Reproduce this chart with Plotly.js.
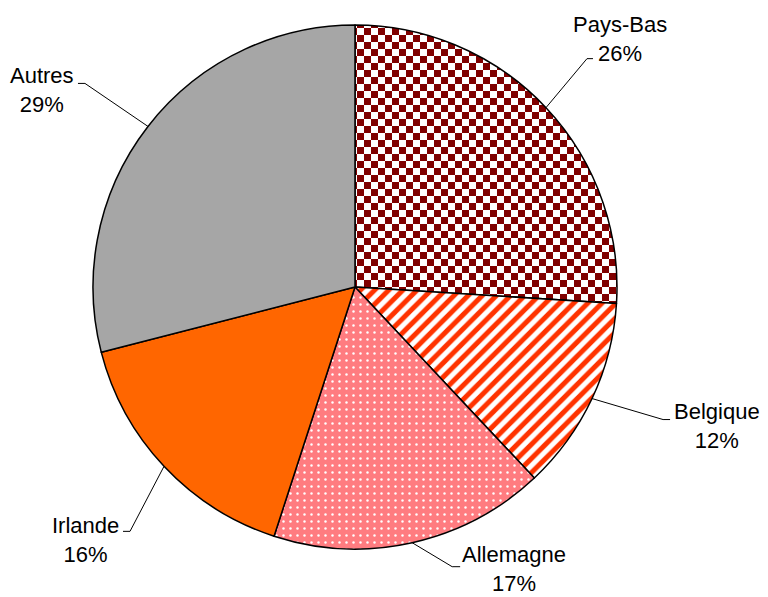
<!DOCTYPE html>
<html>
<head>
<meta charset="utf-8">
<script src="https://cdn.plot.ly/plotly-3.0.1.min.js"></script>
<style>html,body{margin:0;padding:0;background:#fff;}#chart{width:768px;height:597px;}</style>
</head>
<body>
<div id="chart"></div>
<script>
// ---- data ----
const labels = ["Pays-Bas", "Belgique", "Allemagne", "Irlande", "Autres"];
const values = [26, 12, 17, 16, 29];

// ---- style ----
const bgColors = ["#ffffff", "#ffffff", "#ff7c80", "#ff6600", "#a6a6a6"];
const fgColors = ["#800000", "#ff3300", "#ffffff", "#ff6600", "#a6a6a6"];
const shapes = ["+", "/", ".", "", ""];
const sizes = [8, 10, 7, 8, 8];
const solidities = [0.5, 0.5, 0.1, 0.3, 0.3];
const checkSquare = 7;

const W = 768, H = 597;
const CX = 355, CY = 287, R = 262;
// leader elbow offsets (from slice edge point) and text offsets (from elbow)
const elbowOff = [[41, -49], [71, 21], [40, 24], [-34, 65], [-63, -43]];
const tailLen = [6, 7, 8, -7, -7];
const textOff = [[33, -20], [54, 6], [62, 2], [-45, 9], [-43, 7]];

const px = x => x / W;
const py = y => 1 - y / H;

const total = values.reduce((a, b) => a + b, 0);
let cum = 0;
const layoutShapes = [];
const annotations = [];
values.forEach((v, i) => {
  const mid = (cum + v / 2) / total * 2 * Math.PI;
  cum += v;
  const ax = CX + R * Math.sin(mid);
  const ay = CY - R * Math.cos(mid);
  const ex = ax + elbowOff[i][0], ey = ay + elbowOff[i][1];
  const tx = ex + tailLen[i];
  layoutShapes.push({
    type: "path", xref: "paper", yref: "paper",
    path: `M ${px(ax)},${py(ay)} L ${px(ex)},${py(ey)} L ${px(tx)},${py(ey)}`,
    line: {color: "#000", width: 1}
  });
  annotations.push({
    xref: "paper", yref: "paper",
    x: px(ex + textOff[i][0]), y: py(ey + textOff[i][1]),
    xanchor: "center", yanchor: "middle",
    text: labels[i] + "<br>" + v + "%",
    showarrow: false,
    font: {family: "Liberation Sans, Arial, sans-serif", size: 22, color: "#000"}
  });
});

const trace = {
  type: "pie",
  labels: labels,
  values: values,
  sort: false,
  direction: "clockwise",
  rotation: 0,
  textinfo: "none",
  hoverinfo: "none",
  showlegend: false,
  domain: {x: [px(CX - R), px(CX + R)], y: [py(CY + R), py(CY - R)]},
  marker: {
    colors: bgColors,
    line: {color: "#000000", width: 1.5},
    pattern: {
      shape: shapes,
      fgcolor: fgColors,
      bgcolor: bgColors,
      size: sizes,
      solidity: solidities,
      fillmode: "replace"
    }
  }
};

const layout = {
  width: W, height: H,
  margin: {l: 0, r: 0, t: 0, b: 0},
  paper_bgcolor: "#ffffff",
  plot_bgcolor: "#ffffff",
  shapes: layoutShapes,
  annotations: annotations,
  showlegend: false
};

Plotly.newPlot("chart", [trace], layout, {staticPlot: true}).then(gd => {
  // turn the first slice's pattern into a checkerboard
  const slices = gd.querySelectorAll(".slice path.surface");
  if (!slices.length) return;
  const fill = slices[0].style.fill || slices[0].getAttribute("fill") || "";
  const m = fill.match(/#([^'")]+)/);
  if (!m) return;
  const pat = gd.querySelector("pattern#" + CSS.escape(m[1]));
  if (!pat) return;
  const ns = "http://www.w3.org/2000/svg";
  const s = checkSquare;
  while (pat.firstChild) pat.removeChild(pat.firstChild);
  pat.setAttribute("width", 2 * s);
  pat.setAttribute("height", 2 * s);
  pat.setAttribute("patternUnits", "userSpaceOnUse");
  const mk = (x, y, w, h, c) => {
    const r = document.createElementNS(ns, "rect");
    r.setAttribute("x", x); r.setAttribute("y", y);
    r.setAttribute("width", w); r.setAttribute("height", h);
    r.setAttribute("fill", c);
    pat.appendChild(r);
  };
  mk(0, 0, 2 * s, 2 * s, bgColors[0]);
  mk(0, 0, s, s, fgColors[0]);
  mk(s, s, s, s, fgColors[0]);
});
</script>
</body>
</html>
